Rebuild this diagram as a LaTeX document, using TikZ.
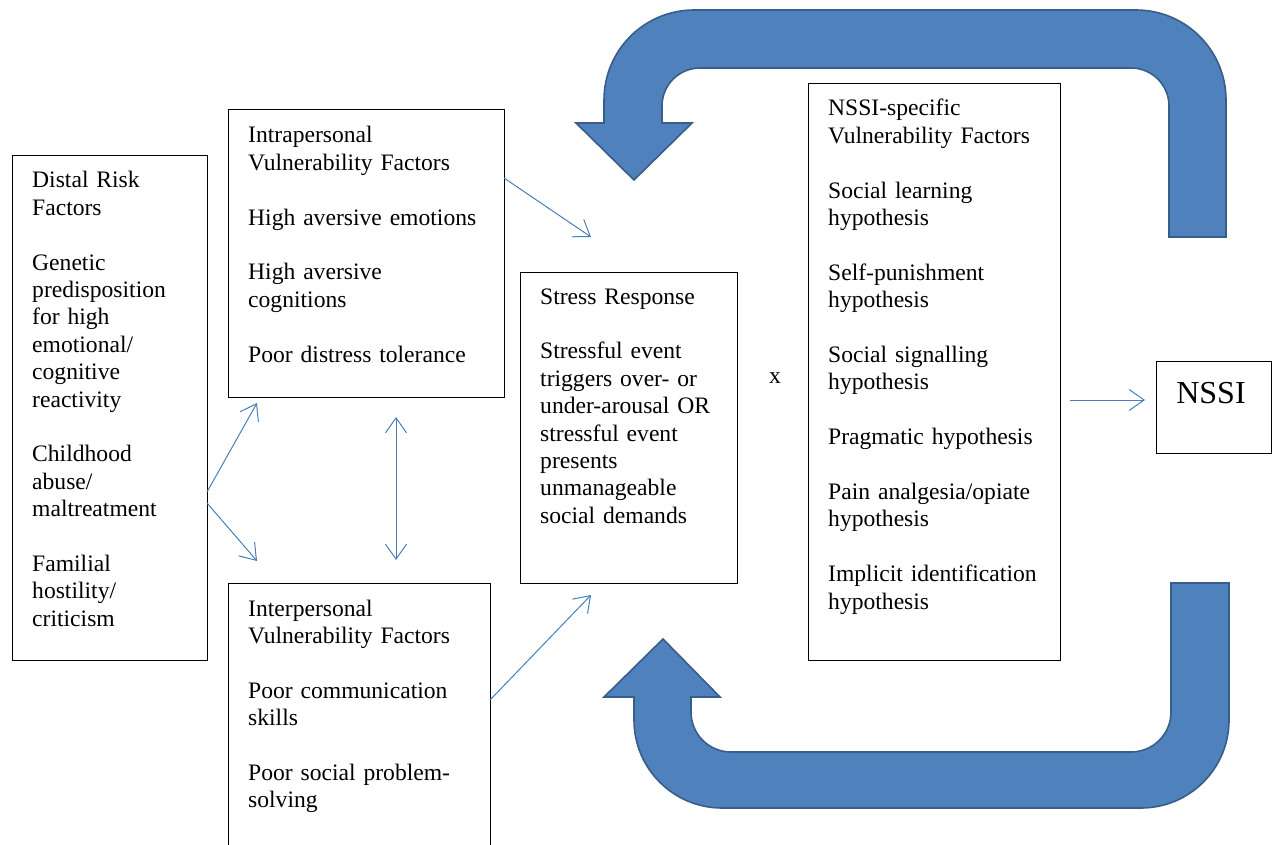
\documentclass[tikz,border=0pt]{standalone}
\usepackage{fontspec}
\setmainfont{Liberation Serif}
\usetikzlibrary{arrows.meta}
\definecolor{loopfill}{HTML}{4F81BD}
\definecolor{loopline}{HTML}{385D8A}
\definecolor{linkblue}{HTML}{4A7EBB}
\tikzset{
  box/.style={draw=black, line width=1.3pt, rectangle, anchor=north west, inner sep=0pt},
  txt/.style={anchor=base west, inner sep=0pt, align=left,
    font=\rmfamily\fontsize{23.6}{27.4}\selectfont},
  link/.style={draw=linkblue, line width=1pt,
    -{Straight Barb[length=15pt,width=21pt,line width=1pt]}},
  dlink/.style={draw=linkblue, line width=1pt,
    {Straight Barb[length=15pt,width=21pt,line width=1pt]}-{Straight Barb[length=15pt,width=21pt,line width=1pt]}},
  loop/.style={fill=loopfill, draw=loopline, line width=1.6pt, line join=miter}
}
\newcommand{\gap}{\\[27.4pt]}
\begin{document}
\begin{tikzpicture}[x=1pt, y=-1pt]
\useasboundingbox (0,0) rectangle (1277,845);
\clip (0,0) rectangle (1277,845);

% boxes
\node[box, minimum width=195pt, minimum height=505pt] (distal) at (12,155) {};
\node[box, minimum width=276pt, minimum height=288pt] (intra) at (228,109) {};
\node[box, minimum width=262pt, minimum height=300pt] (inter) at (228,583) {};
\node[box, minimum width=217pt, minimum height=311pt] (stress) at (520,272) {};
\node[box, minimum width=252pt, minimum height=577pt] (nssispec) at (808,83) {};
\node[box, minimum width=115pt, minimum height=92pt] (nssi) at (1156,361) {};

% box texts
\node[txt, text width=180pt] (distalT) at (32,188)
  {Distal Risk\\Factors\gap Genetic\\predisposition\\for high\\emotional/\\cognitive\\reactivity\gap
   Childhood\\abuse/\\maltreatment\gap Familial\\hostility/\\criticism};
\node[txt, text width=250pt] (intraT) at (248,143)
  {Intrapersonal\\Vulnerability Factors\gap High aversive emotions\gap
   High aversive\\cognitions\gap Poor distress tolerance};
\node[txt, text width=240pt] (interT) at (248,616)
  {Interpersonal\\Vulnerability Factors\gap Poor communication\\skills\gap
   Poor social problem-\\solving};
\node[txt, text width=195pt] (stressT) at (540,304)
  {Stress Response\gap Stressful event\\triggers over- or\\under-arousal OR\\stressful event\\presents\\unmanageable\\social demands};
\node[txt, text width=228pt] (nssispecT) at (828,116)
  {NSSI-specific\\Vulnerability Factors\gap Social learning\\hypothesis\gap
   Self-punishment\\hypothesis\gap Social signalling\\hypothesis\gap
   Pragmatic hypothesis\gap Pain analgesia/opiate\\hypothesis\gap
   Implicit identification\\hypothesis};
\node[anchor=base, inner sep=0pt, font=\rmfamily\fontsize{32}{36}\selectfont] (nssiT) at (1211,403) {NSSI};
\node[anchor=base, inner sep=0pt, font=\rmfamily\fontsize{23.6}{27.4}\selectfont] (times) at (775,383) {x};

% connector end points
\coordinate (dA) at (207,492);
\coordinate (dAend) at (257,403);
\coordinate (dB) at (207,503);
\coordinate (dBend) at (257,561);
\coordinate (iA) at (504,178);
\coordinate (iAend) at (591,237);
\coordinate (pA) at (490,700);
\coordinate (pAend) at (591,595);
\coordinate (vTop) at (396,417);
\coordinate (vBot) at (396,560);
\coordinate (nA) at (1070,400);
\coordinate (nAend) at (1145,400);

% thin connectors
\draw[link] (dA) -- (dAend);
\draw[link] (dB) -- (dBend);
\draw[link] (iA) -- (iAend);
\draw[link] (pA) -- (pAend);
\draw[dlink] (vTop) -- (vBot);
\draw[link] (nA) -- (nAend);

% feedback loop, upper U-turn arrow
\draw[loop] (1226,237) [rounded corners=90pt] -- (1226,10) -- (604,10)
  [sharp corners] -- (604,123) -- (576,123) -- (634,180) -- (692,123) -- (662,123)
  [rounded corners=38pt] -- (662,68) -- (1169,68)
  [sharp corners] -- (1169,237) -- cycle;

% feedback loop, lower U-turn arrow
\draw[loop] (1229,583) [rounded corners=88pt] -- (1229,808) -- (634,808)
  [sharp corners] -- (634,697) -- (604,697) -- (663,639) -- (720,697) -- (691,697)
  [rounded corners=40pt] -- (691,752) -- (1171,752)
  [sharp corners] -- (1171,583) -- cycle;
\end{tikzpicture}
\end{document}
